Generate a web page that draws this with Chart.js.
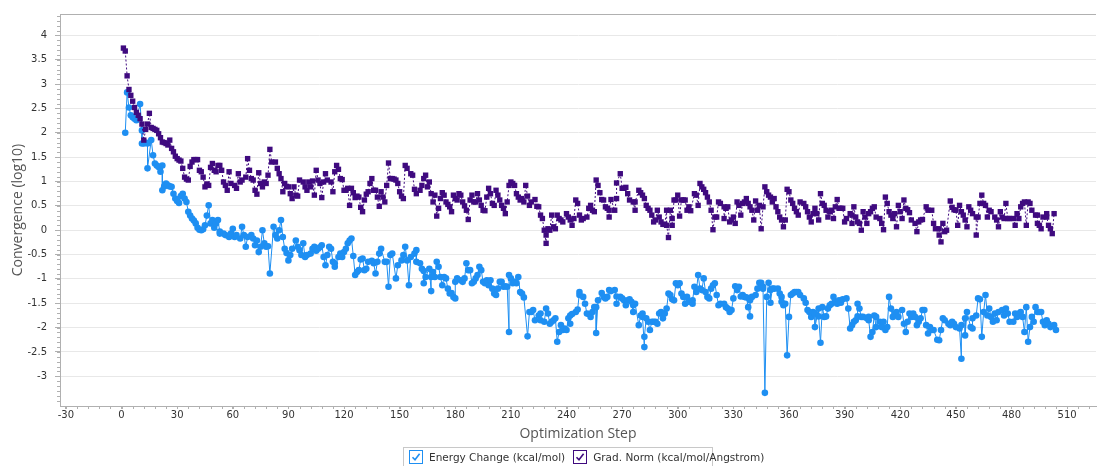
<!DOCTYPE html>
<html>
<head>
<meta charset="utf-8">
<script src="https://cdn.jsdelivr.net/npm/chart.js@4"></script>
<style>
  body { margin: 0; background: #fff; }
  #wrap { position: relative; width: 1100px; height: 466px; }
  #legend {
    position: absolute; left: 403px; top: 447px; width: 308px; height: 18px;
    border: 1px solid #c8c8c8; border-bottom: none; background: #fff;
    font: 10.5px "DejaVu Sans", sans-serif; color: #333;
    display: flex; align-items: center; white-space: nowrap;
  }
  .item { display: flex; align-items: center; margin-left: 5px; margin-right: 3px; }
  .box { width: 12px; height: 12px; border: 1px solid; margin-right: 6px; display: inline-block; }
  .box svg { display: block; }
</style>
</head>
<body>
<div id="wrap">
  <canvas id="chart" width="1100" height="466"></canvas>
  <div id="legend"></div>
</div>
<script>
const xTitle = "Optimization Step";
const yTitle = "Convergence (log10)";
const seriesNames = ["Energy Change (kcal/mol)", "Grad. Norm (kcal/mol/Angstrom)"];
const seriesColors = ["#1E8FF2", "#3F0A7F"];
const xTickStep = 30;
const yTickStep = 0.5;
const yTickMin = -3;

// [step, log10 value]
const energyPoints = [
  [2,2.00],[3,2.83],[4,2.52],[5,2.36],[6,2.32],[7,2.29],[8,2.26],[10,2.59],[11,2.05],[11,1.78],[12,1.78],[13,1.80],[14,1.78],[14,1.27],[16,1.85],[17,1.54],[18,1.37],[19,1.33],[20,1.30],[21,1.20],[22,1.33],[22,0.82],[23,0.90],[24,0.96],[25,0.92],[26,0.90],[27,0.89],[28,0.75],[29,0.65],[30,0.60],[31,0.56],[32,0.70],[33,0.75],[34,0.65],[35,0.58],[36,0.38],[37,0.30],[38,0.24],[39,0.20],[40,0.14],[41,0.05],[42,0.01],[43,0.00],[44,0.02],[45,0.10],[46,0.30],[47,0.51],[48,0.14],[49,0.21],[50,0.05],
  [51,0.14],[52,0.21],[53,-0.03],[53,-0.07],[55,-0.07],[56,-0.10],[58,-0.14],[59,-0.07],[60,0.03],[61,-0.14],[62,-0.10],[64,-0.17],[65,0.07],[66,-0.10],[67,-0.34],[68,-0.14],[70,-0.10],[71,-0.17],[72,-0.31],[73,-0.21],[74,-0.45],[75,-0.34],[76,0.00],[77,-0.27],[78,-0.34],[79,-0.33],[80,-0.89],[82,0.07],[83,-0.10],[84,-0.17],[85,0.00],[86,0.21],[87,-0.14],[88,-0.38],[89,-0.47],[90,-0.62],[91,-0.51],[92,-0.38],[94,-0.21],[95,-0.34],[96,-0.41],[97,-0.51],[98,-0.27],[99,-0.55],[100,-0.51],[102,-0.48],[103,-0.38],[104,-0.34],
  [105,-0.42],[106,-0.38],[107,-0.35],[108,-0.31],[109,-0.55],[110,-0.72],[111,-0.51],[112,-0.34],[113,-0.38],[114,-0.65],[115,-0.68],[115,-0.75],[117,-0.55],[118,-0.48],[119,-0.55],[120,-0.45],[121,-0.38],[122,-0.27],[123,-0.21],[124,-0.17],[125,-0.53],[126,-0.92],[127,-0.86],[128,-0.82],[129,-0.60],[130,-0.58],[131,-0.82],[132,-0.79],[133,-0.65],[135,-0.63],[136,-0.68],[137,-0.89],[138,-0.65],[139,-0.48],[140,-0.38],[142,-0.65],[143,-0.65],[144,-1.16],[145,-0.51],[146,-0.48],[148,-0.99],[149,-0.72],[151,-0.62],[152,-0.51],[153,-0.34],[154,-0.62],[155,-1.13],[156,-0.55],
  [158,-0.48],[159,-0.41],[159,-0.65],[161,-0.68],[162,-0.79],[163,-0.84],[163,-1.09],[164,-0.96],[166,-0.79],[167,-1.25],[167,-0.96],[168,-0.86],[169,-0.96],[170,-0.65],[171,-0.75],[172,-0.96],[173,-1.13],[174,-0.96],[175,-0.99],[176,-1.20],[177,-1.30],[178,-1.29],[179,-1.37],[180,-1.40],[180,-1.06],[181,-0.99],[183,-1.03],[184,-1.06],[185,-0.99],[186,-0.68],[187,-0.82],[188,-0.82],[189,-1.09],[190,-1.06],[191,-0.99],[192,-0.92],[193,-0.75],[194,-0.82],[195,-1.06],[196,-1.09],[197,-1.03],[198,-1.13],[199,-1.03],[200,-1.20],[201,-1.30],[202,-1.33],[203,-1.20],[204,-1.06],[205,-1.06],[206,-1.16],[207,-1.15],[208,-1.16],[209,-2.09],[209,-0.92],[210,-0.99],[211,-1.09],
  [212,-1.06],[213,-1.09],[214,-0.96],[215,-1.27],[216,-1.30],[217,-1.38],[219,-2.18],[220,-1.68],[221,-1.68],[222,-1.64],[223,-1.85],[225,-1.75],[226,-1.71],[226,-1.85],[228,-1.88],[229,-1.61],[230,-1.71],[231,-1.92],[232,-1.88],[233,-1.85],[234,-1.81],[235,-2.29],[236,-2.09],[237,-1.95],[238,-2.05],[239,-2.02],[240,-2.05],[241,-1.81],[242,-1.92],[242,-1.75],[243,-1.72],[245,-1.68],[246,-1.63],[247,-1.27],[247,-1.33],[249,-1.37],[250,-1.51],[251,-1.71],[252,-1.72],[253,-1.78],[254,-1.68],[255,-1.58],[256,-1.58],[256,-2.11],[257,-1.44],[259,-1.29],[260,-1.37],[261,-1.40],[262,-1.37],
  [263,-1.23],[264,-1.25],[266,-1.23],[267,-1.36],[267,-1.51],[269,-1.37],[270,-1.40],[271,-1.44],[272,-1.54],[273,-1.44],[274,-1.42],[275,-1.47],[276,-1.68],[276,-1.54],[277,-1.51],[279,-1.95],[280,-1.75],[281,-1.71],[281,-1.78],[282,-2.40],[282,-2.19],[283,-1.81],[284,-1.88],[285,-2.05],[286,-1.88],[287,-1.88],[288,-1.88],[289,-1.92],[290,-1.71],[291,-1.68],[292,-1.81],[293,-1.71],[294,-1.61],[295,-1.30],[296,-1.33],[297,-1.42],[298,-1.44],[299,-1.09],[300,-1.13],[301,-1.09],[302,-1.30],[303,-1.37],[304,-1.51],[305,-1.37],[306,-1.47],[308,-1.51],[308,-1.44],[309,-1.16],[310,-1.27],[311,-0.92],[312,-1.20],[313,-1.23],[314,-0.99],[315,-1.27],
  [316,-1.37],[317,-1.40],[318,-1.20],[319,-1.13],[320,-1.09],[321,-1.33],[322,-1.54],[323,-1.51],[325,-1.51],[326,-1.58],[327,-1.61],[328,-1.68],[329,-1.64],[330,-1.40],[331,-1.15],[332,-1.23],[333,-1.16],[334,-1.36],[335,-1.33],[336,-1.37],[337,-1.38],[338,-1.58],[339,-1.77],[339,-1.44],[340,-1.37],[342,-1.33],[343,-1.20],[344,-1.08],[345,-1.08],[346,-1.16],[346,-1.20],[347,-3.34],[348,-1.37],[349,-1.08],[350,-1.23],[350,-1.49],[351,-1.20],[352,-1.20],[354,-1.20],[355,-1.30],[356,-1.37],[356,-1.47],[357,-1.54],[358,-1.51],[359,-2.57],[360,-1.78],[361,-1.33],[362,-1.30],[363,-1.27],[364,-1.27],[365,-1.27],[366,-1.33],[368,-1.40],[369,-1.49],
  [370,-1.64],[371,-1.68],[372,-1.78],[373,-1.68],[374,-1.71],[374,-1.99],[376,-1.61],[376,-1.77],[377,-2.31],[378,-1.58],[379,-1.78],[380,-1.77],[381,-1.61],[382,-1.54],[383,-1.51],[384,-1.37],[385,-1.47],[386,-1.51],[387,-1.44],[388,-1.49],[389,-1.42],[391,-1.40],[392,-1.61],[393,-2.02],[394,-1.95],[395,-1.88],[396,-1.85],[397,-1.77],[397,-1.51],[398,-1.61],[399,-1.78],[400,-1.78],[402,-1.81],[403,-1.78],[403,-1.85],[404,-2.19],[405,-2.09],[406,-1.75],[407,-1.99],[407,-1.78],[409,-1.88],[410,-1.99],[411,-1.88],[412,-2.05],[413,-1.99],[414,-1.37],[415,-1.61],[416,-1.78],[417,-1.71],[418,-1.68],[419,-1.78],[421,-1.64],[422,-1.92],
  [423,-2.09],[424,-1.88],[425,-1.71],[426,-1.78],[427,-1.71],[428,-1.78],[429,-1.95],[430,-1.88],[431,-1.81],[432,-1.64],[433,-1.64],[434,-1.95],[435,-2.12],[436,-1.99],[437,-2.05],[438,-2.05],[440,-2.25],[441,-2.26],[442,-2.05],[443,-1.81],[444,-1.85],[446,-1.92],[447,-1.95],[448,-1.88],[449,-1.92],[450,-1.99],[452,-2.02],[453,-2.64],[453,-1.95],[455,-1.81],[455,-2.16],[456,-1.68],[458,-1.99],[459,-2.02],[459,-1.81],[461,-1.75],[462,-1.40],[463,-1.42],[464,-2.19],[465,-1.68],[466,-1.33],[467,-1.75],[468,-1.61],[469,-1.78],[470,-1.88],[471,-1.71],[472,-1.85],[473,-1.68],[475,-1.64],[476,-1.75],[477,-1.61],[478,-1.71],[479,-1.88],[481,-1.88],[482,-1.71],[483,-1.78],[484,-1.71],[485,-1.68],[486,-1.78],[487,-2.09],[488,-1.58],[489,-2.29],[490,-1.99],[491,-1.78],[492,-1.88],[493,-1.58],[494,-1.68],[495,-1.68],[496,-1.68],[497,-1.88],[498,-1.95],[499,-1.85],[500,-1.92],[501,-1.99],[503,-1.95],[504,-2.05]
];

const gradPoints = [
  [1,3.74],[2,3.68],[3,3.17],[4,2.89],[5,2.77],[6,2.65],[7,2.52],[8,2.42],[9,2.36],[10,2.29],[11,2.18],[12,1.85],[13,2.07],[14,2.18],[15,2.40],[16,2.11],[17,2.09],[18,2.07],[19,2.05],[20,1.98],[21,1.90],[22,1.81],[23,1.80],[24,1.78],[25,1.75],[26,1.85],[27,1.68],[28,1.61],[29,1.52],[30,1.47],[31,1.44],[32,1.42],[33,1.27],[34,1.09],[35,1.05],[36,1.03],[37,1.31],[38,1.40],[39,1.45],[40,1.45],[41,1.45],[42,1.23],[43,1.20],[44,1.09],[45,0.89],[46,0.95],[47,0.92],[48,1.29],[49,1.37],[50,1.23],
  [51,1.20],[52,1.33],[53,1.33],[54,1.23],[55,0.99],[56,0.92],[57,0.82],[58,1.20],[59,0.96],[61,0.92],[62,0.86],[63,1.16],[64,0.99],[65,1.03],[67,1.09],[68,1.47],[69,1.23],[70,1.06],[71,1.03],[72,0.82],[73,0.74],[74,1.18],[75,0.96],[76,0.89],[77,0.99],[78,0.96],[79,1.13],[80,1.66],[81,1.40],[83,1.40],[84,1.27],[85,1.16],[86,1.06],[87,0.79],[88,0.96],[89,0.90],[90,0.89],[91,0.75],[92,0.65],[93,0.89],[94,0.72],[95,0.70],[96,1.03],[98,0.99],[99,0.89],[100,0.82],[101,0.99],[102,0.89],[103,1.01],[104,0.72],
  [105,1.23],[106,1.03],[107,0.96],[108,0.67],[109,0.99],[110,1.16],[111,1.03],[113,0.99],[114,0.79],[115,1.20],[116,1.33],[117,1.25],[118,1.06],[119,1.04],[120,0.82],[121,0.82],[122,0.86],[123,0.51],[124,0.86],[125,0.77],[126,0.67],[127,0.70],[128,0.68],[129,0.47],[130,0.38],[131,0.62],[132,0.74],[133,0.79],[134,0.96],[135,1.06],[136,0.82],[137,0.82],[138,0.68],[139,0.49],[140,0.79],[141,0.68],[142,0.58],[143,0.92],[144,1.38],[145,1.06],[146,1.06],[147,1.05],[148,1.03],[149,0.96],[150,0.79],[151,0.70],[152,0.65],[153,1.33],
  [154,1.27],[156,1.16],[157,1.13],[158,0.84],[159,0.75],[161,0.82],[162,0.92],[163,1.06],[164,1.13],[165,0.89],[166,0.99],[167,0.75],[168,0.58],[169,0.72],[170,0.29],[171,0.45],[172,0.65],[173,0.77],[174,0.72],[175,0.58],[176,0.53],[177,0.48],[178,0.38],[179,0.72],[180,0.65],[181,0.62],[182,0.75],[183,0.72],[184,0.58],[185,0.50],[186,0.41],[187,0.22],[188,0.62],[189,0.72],[190,0.58],[191,0.58],[192,0.75],[193,0.62],[194,0.51],[195,0.41],[196,0.40],[197,0.68],[198,0.86],[199,0.75],[200,0.55],[201,0.51],[202,0.82],[203,0.72],[204,0.62],[205,0.51],[206,0.45],[207,0.34],[208,0.58],[209,0.92],[210,0.99],
  [211,0.96],[212,0.92],[213,0.75],[214,0.68],[215,0.62],[216,0.65],[217,0.58],[218,0.92],[219,0.70],[220,0.51],[221,0.58],[223,0.63],[224,0.49],[225,0.48],[226,0.31],[227,0.24],[228,0.00],[229,-0.27],[229,-0.10],[230,0.03],[231,0.00],[232,0.31],[233,0.07],[234,0.03],[235,0.31],[236,0.24],[237,0.21],[238,0.17],[240,0.34],[241,0.27],[242,0.21],[243,0.10],[244,0.24],[245,0.62],[246,0.55],[247,0.31],[248,0.21],[249,0.24],[251,0.27],[252,0.45],[253,0.51],[254,0.41],[255,0.38],[256,1.03],[257,0.92],[258,0.77],[259,0.63],[260,0.62],[261,0.48],
  [262,0.45],[263,0.27],[263,0.41],[264,0.63],[266,0.41],[267,0.65],[267,0.97],[269,1.16],[270,0.86],[271,0.86],[272,0.88],[273,0.75],[274,0.62],[276,0.58],[277,0.41],[277,0.58],[279,0.82],[280,0.77],[281,0.72],[282,0.65],[283,0.51],[284,0.45],[285,0.41],[286,0.31],[287,0.17],[288,0.21],[289,0.41],[290,0.27],[291,0.17],[292,0.12],[293,0.12],[294,0.41],[294,0.10],[295,-0.15],[296,0.41],[297,0.24],[297,0.10],[298,0.62],[299,0.62],[300,0.72],[301,0.29],[302,0.62],[303,0.62],[304,0.62],[305,0.41],[306,0.48],[307,0.40],[309,0.75],[310,0.72],[311,0.51],[312,0.96],[313,0.89],[314,0.84],[315,0.77],
  [316,0.68],[317,0.58],[318,0.41],[319,0.01],[320,0.27],[321,0.27],[322,0.58],[323,0.55],[325,0.48],[325,0.24],[326,0.45],[327,0.48],[328,0.17],[329,0.21],[330,0.27],[331,0.14],[332,0.58],[333,0.51],[334,0.31],[335,0.55],[336,0.58],[337,0.65],[338,0.55],[339,0.48],[340,0.41],[341,0.21],[342,0.60],[343,0.41],[344,0.51],[345,0.03],[346,0.48],[347,0.89],[348,0.79],[349,0.72],[350,0.68],[351,0.58],[352,0.65],[353,0.48],[354,0.38],[355,0.27],[356,0.21],[357,0.07],[358,0.21],[359,0.84],[360,0.79],[361,0.62],[362,0.55],[363,0.45],[364,0.38],[365,0.31],[366,0.58],[368,0.55],[369,0.48],
  [370,0.38],[371,0.27],[372,0.17],[373,0.34],[374,0.45],[375,0.34],[376,0.21],[377,0.75],[378,0.55],[379,0.51],[380,0.41],[381,0.27],[382,0.38],[383,0.41],[384,0.24],[385,0.48],[386,0.63],[387,0.45],[388,0.45],[389,0.45],[390,0.17],[391,0.24],[393,0.34],[394,0.14],[394,0.31],[395,0.48],[396,0.27],[397,0.17],[398,0.14],[399,0.00],[400,0.38],[401,0.27],[402,0.14],[403,0.34],[404,0.38],[405,0.45],[406,0.48],[407,0.27],[409,0.24],[410,0.14],[411,0.01],[412,0.68],[413,0.55],[414,0.38],[415,0.31],[416,0.24],[417,0.34],[418,0.07],[419,0.51],[420,0.38],[421,0.24],[422,0.62],
  [423,0.45],[424,0.42],[425,0.36],[426,0.21],[428,0.14],[429,-0.03],[430,0.17],[431,0.21],[432,0.22],[434,0.48],[435,0.41],[437,0.41],[438,0.14],[439,0.03],[441,0.03],[441,-0.10],[442,-0.24],[443,0.14],[444,-0.03],[445,0.00],[447,0.60],[448,0.47],[449,0.42],[450,0.41],[451,0.10],[452,0.51],[453,0.38],[454,0.31],[455,0.21],[456,0.07],[457,0.48],[458,0.41],[459,0.34],[461,0.27],[461,-0.10],[462,0.27],[463,0.55],[464,0.72],[465,0.55],[466,0.51],[467,0.27],[468,0.41],[469,0.38],[471,0.27],[472,0.21],[473,0.07],[474,0.38],[475,0.27],[476,0.24],[477,0.55],[478,0.24],[479,0.24],[481,0.24],[482,0.10],[483,0.34],[484,0.24],[485,0.48],[486,0.55],[487,0.58],[488,0.10],[489,0.58],[490,0.55],[491,0.41],[493,0.31],[494,0.31],[494,0.14],[495,0.10],[496,0.03],[497,0.27],[499,0.34],[499,0.27],[500,0.10],[501,0.03],[502,-0.07],[503,0.34]
];

const toXY = pts => pts.map(([x, y]) => ({x, y}));

// small ticks between the labelled ones, plus the frame line on top
const minorTicks = {
  id: 'minorTicks',
  afterDraw(chart) {
    const {ctx, chartArea: a, scales: {x, y}} = chart;
    ctx.save();
    ctx.strokeStyle = '#b0b0b0';
    ctx.lineWidth = 1;
    ctx.beginPath();
    for (let v = -30; v <= x.max; v += xTickStep / 5) {
      const px = Math.round(x.getPixelForValue(v)) + 0.5;
      if (px < a.left) continue;
      ctx.moveTo(px, a.bottom);
      ctx.lineTo(px, a.bottom + 3);
    }
    for (let v = -3.5; v <= y.max; v += yTickStep / 5) {
      const py = Math.round(y.getPixelForValue(v)) + 0.5;
      if (py > a.bottom) continue;
      ctx.moveTo(a.left, py);
      ctx.lineTo(a.left - 3, py);
    }
    ctx.moveTo(a.left, a.top + 0.5);
    ctx.lineTo(a.right, a.top + 0.5);
    ctx.stroke();
    ctx.restore();
  }
};

new Chart(document.getElementById('chart'), {
  type: 'line',
  data: {
    datasets: [
      {
        label: seriesNames[0],
        data: toXY(energyPoints),
        borderColor: seriesColors[0],
        backgroundColor: seriesColors[0],
        borderWidth: 1,
        pointRadius: 3.3,
        pointBorderWidth: 0,
        pointStyle: 'circle',
        tension: 0,
        order: 1
      },
      {
        label: seriesNames[1],
        data: toXY(gradPoints),
        borderColor: seriesColors[1],
        backgroundColor: seriesColors[1],
        borderWidth: 1,
        borderDash: [2, 2],
        pointRadius: 3.8,
        pointBorderWidth: 0,
        pointStyle: 'rect',
        tension: 0,
        order: 0
      }
    ]
  },
  options: {
    responsive: false,
    animation: false,
    layout: { padding: { top: 14, right: 0, bottom: 20, left: 0 } },
    plugins: { legend: { display: false }, tooltip: { enabled: false } },
    scales: {
      x: {
        type: 'linear',
        min: -33.2,
        max: 525.6,
        afterFit: s => { s.height = 40; },
        afterBuildTicks: s => { s.ticks = s.ticks.filter(t => t.value % xTickStep === 0); },
        ticks: {
          stepSize: xTickStep,
          includeBounds: false,
          padding: 0,
          color: '#333',
          font: { family: 'DejaVu Sans', size: 10 }
        },
        grid: { drawOnChartArea: false, drawTicks: true, tickLength: 3, color: '#b0b0b0' },
        border: { color: '#b0b0b0' },
        title: {
          display: true,
          text: xTitle,
          color: '#555',
          font: { family: 'Open Sans', size: 14 },
          padding: { top: 0, bottom: 4 }
        }
      },
      y: {
        min: -3.61,
        max: 4.44,
        afterFit: s => { s.width = 60; },
        afterBuildTicks: s => {
          s.ticks = s.ticks.filter(t => t.value >= yTickMin - 1e-6 &&
            Math.abs(t.value / yTickStep - Math.round(t.value / yTickStep)) < 1e-6);
        },
        ticks: {
          stepSize: yTickStep,
          includeBounds: false,
          padding: 8,
          color: '#333',
          font: { family: 'DejaVu Sans', size: 10 },
          callback: v => String(Math.round(v * 10) / 10)
        },
        grid: { color: '#e8e8e8', tickLength: 5, tickColor: '#b0b0b0' },
        border: { color: '#b0b0b0' },
        title: {
          display: true,
          text: yTitle,
          color: '#555',
          font: { family: 'Open Sans', size: 14 },
          padding: { top: 10, bottom: 0 }
        }
      }
    }
  },
  plugins: [minorTicks]
});

const check = c => '<svg width="12" height="12" viewBox="0 0 12 12"><path d="M2.5 6.2 L5 8.8 L9.6 2.8" fill="none" stroke="' + c + '" stroke-width="1.6"/></svg>';
document.getElementById('legend').innerHTML = seriesNames.map((n, i) =>
  '<span class="item"><span class="box" style="border-color:' + seriesColors[i] + '">' + check(seriesColors[i]) + '</span>' + n + '</span>'
).join('');
</script>
</body>
</html>
